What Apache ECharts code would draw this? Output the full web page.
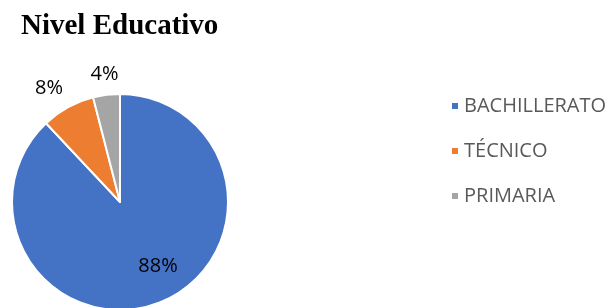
<!DOCTYPE html>
<html>
<head>
<meta charset="utf-8">
<script src="https://cdn.jsdelivr.net/npm/echarts@6/dist/echarts.min.js"></script>
<style>
  html, body { margin: 0; padding: 0; background: #fff; }
  #main { width: 613px; height: 308px; }
</style>
</head>
<body>
<div id="main"></div>
<script>
// categorias y valores (%)
var categorias = ['BACHILLERATO', 'TÉCNICO', 'PRIMARIA'];
var valores = [88, 8, 4];
var colores = ['#4472C4', '#ED7D31', '#A5A5A5'];

// ajuste fino de las etiquetas (px)
var desplaza = [[17, 11], [13, -21], [18, -13]];

var chart = echarts.init(document.getElementById('main'));

var datos = categorias.map(function (c, i) {
  var item = { name: c, value: valores[i] };
  if (i === 0) {
    item.label = { position: 'inside' };
  }
  return item;
});

var option = {
  color: colores,
  title: {
    text: 'Nivel Educativo',
    left: 16,
    top: 7,
    textStyle: {
      fontFamily: 'Liberation Serif',
      fontWeight: 'bold',
      fontSize: 29,
      color: '#000'
    }
  },
  legend: {
    orient: 'vertical',
    left: 445,
    top: 91,
    itemWidth: 8,
    itemHeight: 8,
    itemGap: 25,
    icon: 'rect',
    textStyle: {
      fontFamily: 'Open Sans',
      fontSize: 20,
      color: '#595959'
    },
    data: categorias
  },
  series: [{
    type: 'pie',
    center: [120, 202],
    radius: 108,
    startAngle: 90,
    clockwise: true,
    animation: false,
    itemStyle: {
      borderColor: '#fff',
      borderWidth: 2
    },
    label: {
      show: true,
      position: 'outside',
      formatter: '{c}%',
      fontFamily: 'Open Sans',
      fontSize: 20,
      color: '#000'
    },
    labelLine: { show: false, length: 8, length2: 0 },
    labelLayout: function (p) {
      return { dx: desplaza[p.dataIndex][0], dy: desplaza[p.dataIndex][1] };
    },
    data: datos
  }]
};

chart.setOption(option);
</script>
</body>
</html>
